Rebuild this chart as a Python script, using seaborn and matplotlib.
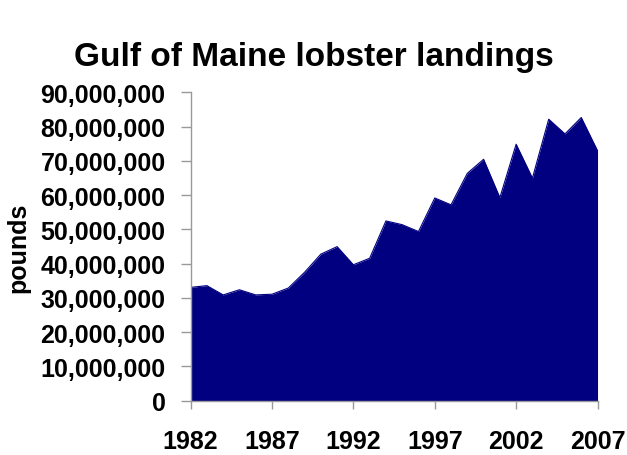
import matplotlib
matplotlib.use('Agg')
import matplotlib.pyplot as plt
import matplotlib.ticker as mticker
import seaborn as sns
import pandas as pd

# landings (pounds)
years = list(range(1982, 2008))
landings = [33.1e6, 33.6e6, 30.9e6, 32.4e6, 30.9e6, 31.1e6, 32.9e6, 37.5e6,
            42.8e6, 45.0e6, 39.7e6, 41.6e6, 52.5e6, 51.4e6, 49.4e6, 59.2e6,
            57.2e6, 66.4e6, 70.5e6, 59.3e6, 74.9e6, 65.0e6, 82.2e6, 77.9e6,
            82.7e6, 73.0e6]
xticks = [1982, 1987, 1992, 1997, 2002, 2007]
yticks = list(range(0, 90000001, 10000000))

df = pd.DataFrame({'year': years, 'pounds': landings})

sns.set_style('white')
plt.rcParams['font.family'] = ['Liberation Sans', 'DejaVu Sans']
plt.rcParams['font.weight'] = 'bold'
plt.rcParams['text.color'] = 'black'

fig = plt.figure(figsize=(6.27, 4.56), dpi=100)
ax = fig.add_axes([0.304, 0.119, 0.649, 0.676])

navy = '#000080'
sns.lineplot(data=df, x='year', y='pounds', color=navy, linewidth=0.8, ax=ax)
ax.fill_between(df['year'], df['pounds'], 0, color=navy, linewidth=0)

ax.set_xlim(1982, 2007)
ax.set_ylim(0, 90000000)
ax.set_xticks(xticks)
ax.set_yticks(yticks)
ax.yaxis.set_major_formatter(mticker.StrMethodFormatter('{x:,.0f}'))
ax.set_xlabel('')
ax.set_ylabel('')

for side in ['top', 'right']:
    ax.spines[side].set_visible(False)
for side in ['left', 'bottom']:
    ax.spines[side].set_color('#999999')
    ax.spines[side].set_linewidth(1.0)

ax.tick_params(axis='y', length=7, width=1, color='#999999', pad=11,
               labelsize=18, labelcolor='black', left=True)
ax.tick_params(axis='x', length=6, width=1, color='#999999', pad=14,
               labelsize=18, labelcolor='black', bottom=True)
for lab in ax.get_xticklabels() + ax.get_yticklabels():
    lab.set_fontweight('bold')

fig.text(0.5, 0.873, 'Gulf of Maine lobster landings', ha='center', va='center',
         fontsize=24, fontweight='bold', color='black')
fig.text(0.029, 0.456, 'pounds', ha='center', va='center', rotation=90,
         fontsize=18, fontweight='bold', color='black')

fig.savefig('out.png', dpi=100)
